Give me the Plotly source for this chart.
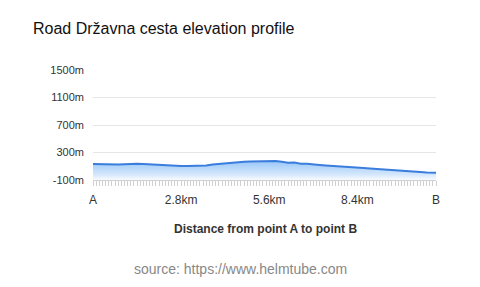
import plotly.graph_objects as go

distance_km = [0.0, 0.2, 0.4, 0.6, 0.8, 1.0, 1.2, 1.4, 1.6, 1.8, 2.0, 2.2, 2.4, 2.6, 2.8,
               3.0, 3.2, 3.4, 3.6, 3.8, 4.0, 4.2, 4.4, 4.6, 4.8, 5.0, 5.2, 5.4, 5.6, 5.8,
               6.0, 6.2, 6.4, 6.6, 6.8, 7.0, 7.2, 7.4, 7.6, 7.8, 8.0, 8.2, 8.4, 8.6, 8.8,
               9.0, 9.2, 9.4, 9.6, 9.8, 10.0, 10.2, 10.4, 10.6, 10.8, 10.9]
elevation_m = [132, 130, 126, 120, 124, 130, 136, 138, 134, 128, 120, 112, 106, 104, 103,
               104, 105, 106, 112, 124, 134, 142, 152, 160, 166, 170, 174, 178, 178, 176,
               164, 152, 154, 136, 138, 134, 120, 112, 104, 98, 92, 86, 80, 74, 68,
               62, 58, 52, 46, 43, 40, 28, 18, 10, 5, 4]

x_tick_vals = [0, 2.8, 5.6, 8.4, 10.9]
x_tick_text = ["A", "2.8km", "5.6km", "8.4km", "B"]
y_tick_vals = [-100, 300, 700, 1100, 1500]
y_tick_text = ["-100m", "300m", "700m", "1100m", "1500m"]
baseline_x = [0, 10.9]
baseline_y = [-100, -100]

FONT = "Liberation Sans, Arial, Helvetica, sans-serif"

fig = go.Figure()
fig.add_trace(go.Scatter(x=baseline_x, y=baseline_y, mode="lines",
                         line=dict(width=0), hoverinfo="skip", showlegend=False))
fig.add_trace(go.Scatter(
    x=distance_km, y=elevation_m, mode="lines",
    line=dict(color="#3b7ddd", width=2),
    fill="tonexty",
    fillgradient=dict(type="vertical",
                      colorscale=[[0, "rgba(110,175,245,0.05)"], [0.3, "rgba(110,175,245,0.3)"],
                                  [1, "rgba(110,175,245,0.7)"]]),
    showlegend=False))

fig.update_layout(
    width=480, height=287,
    margin=dict(l=93, r=44, t=70, b=107),
    paper_bgcolor="white", plot_bgcolor="white",
    font=dict(family=FONT, size=11, color="#333"),
    showlegend=False,
    title=dict(text="Road Državna cesta elevation profile", x=33/480, xanchor="left",
               y=1-28/287, yanchor="middle", xref="container", yref="container",
               font=dict(family=FONT, size=16, color="#111")),
    xaxis=dict(range=[0, 10.9], tickvals=x_tick_vals, ticktext=x_tick_text,
               showgrid=False, zeroline=False, showline=True, linecolor="#d0d0d0", linewidth=1,
               ticks="outside", ticklen=5, tickcolor="#d0d0d0", tickwidth=1,
               minor=dict(ticks="outside", ticklen=5, tickcolor="#d0d0d0", dtick=0.1, tick0=0, showgrid=False),
               ticklabelstandoff=4,
               tickfont=dict(family=FONT, size=12, color="#333")),
    yaxis=dict(range=[-100, 1500], tickvals=y_tick_vals, ticktext=y_tick_text,
               showgrid=True, gridcolor="#e6e6e6", gridwidth=1, zeroline=False,
               showline=False, ticks="", ticklabelstandoff=8,
               tickfont=dict(family=FONT, size=11, color="#333")),
    annotations=[
        dict(text="<b>Distance from point A to point B</b>", xref="paper", yref="paper",
             x=(265-93)/343, y=-(228-179.6)/109.6, xanchor="center", yanchor="middle",
             showarrow=False, font=dict(family=FONT, size=12, color="#333")),
        dict(text="source: https://www.helmtube.com", xref="paper", yref="paper",
             x=(240-93)/343, y=-(268-179.6)/109.6, xanchor="center", yanchor="middle",
             showarrow=False, font=dict(family=FONT, size=14, color="#888")),
    ],
)

fig.write_html("out.html")
